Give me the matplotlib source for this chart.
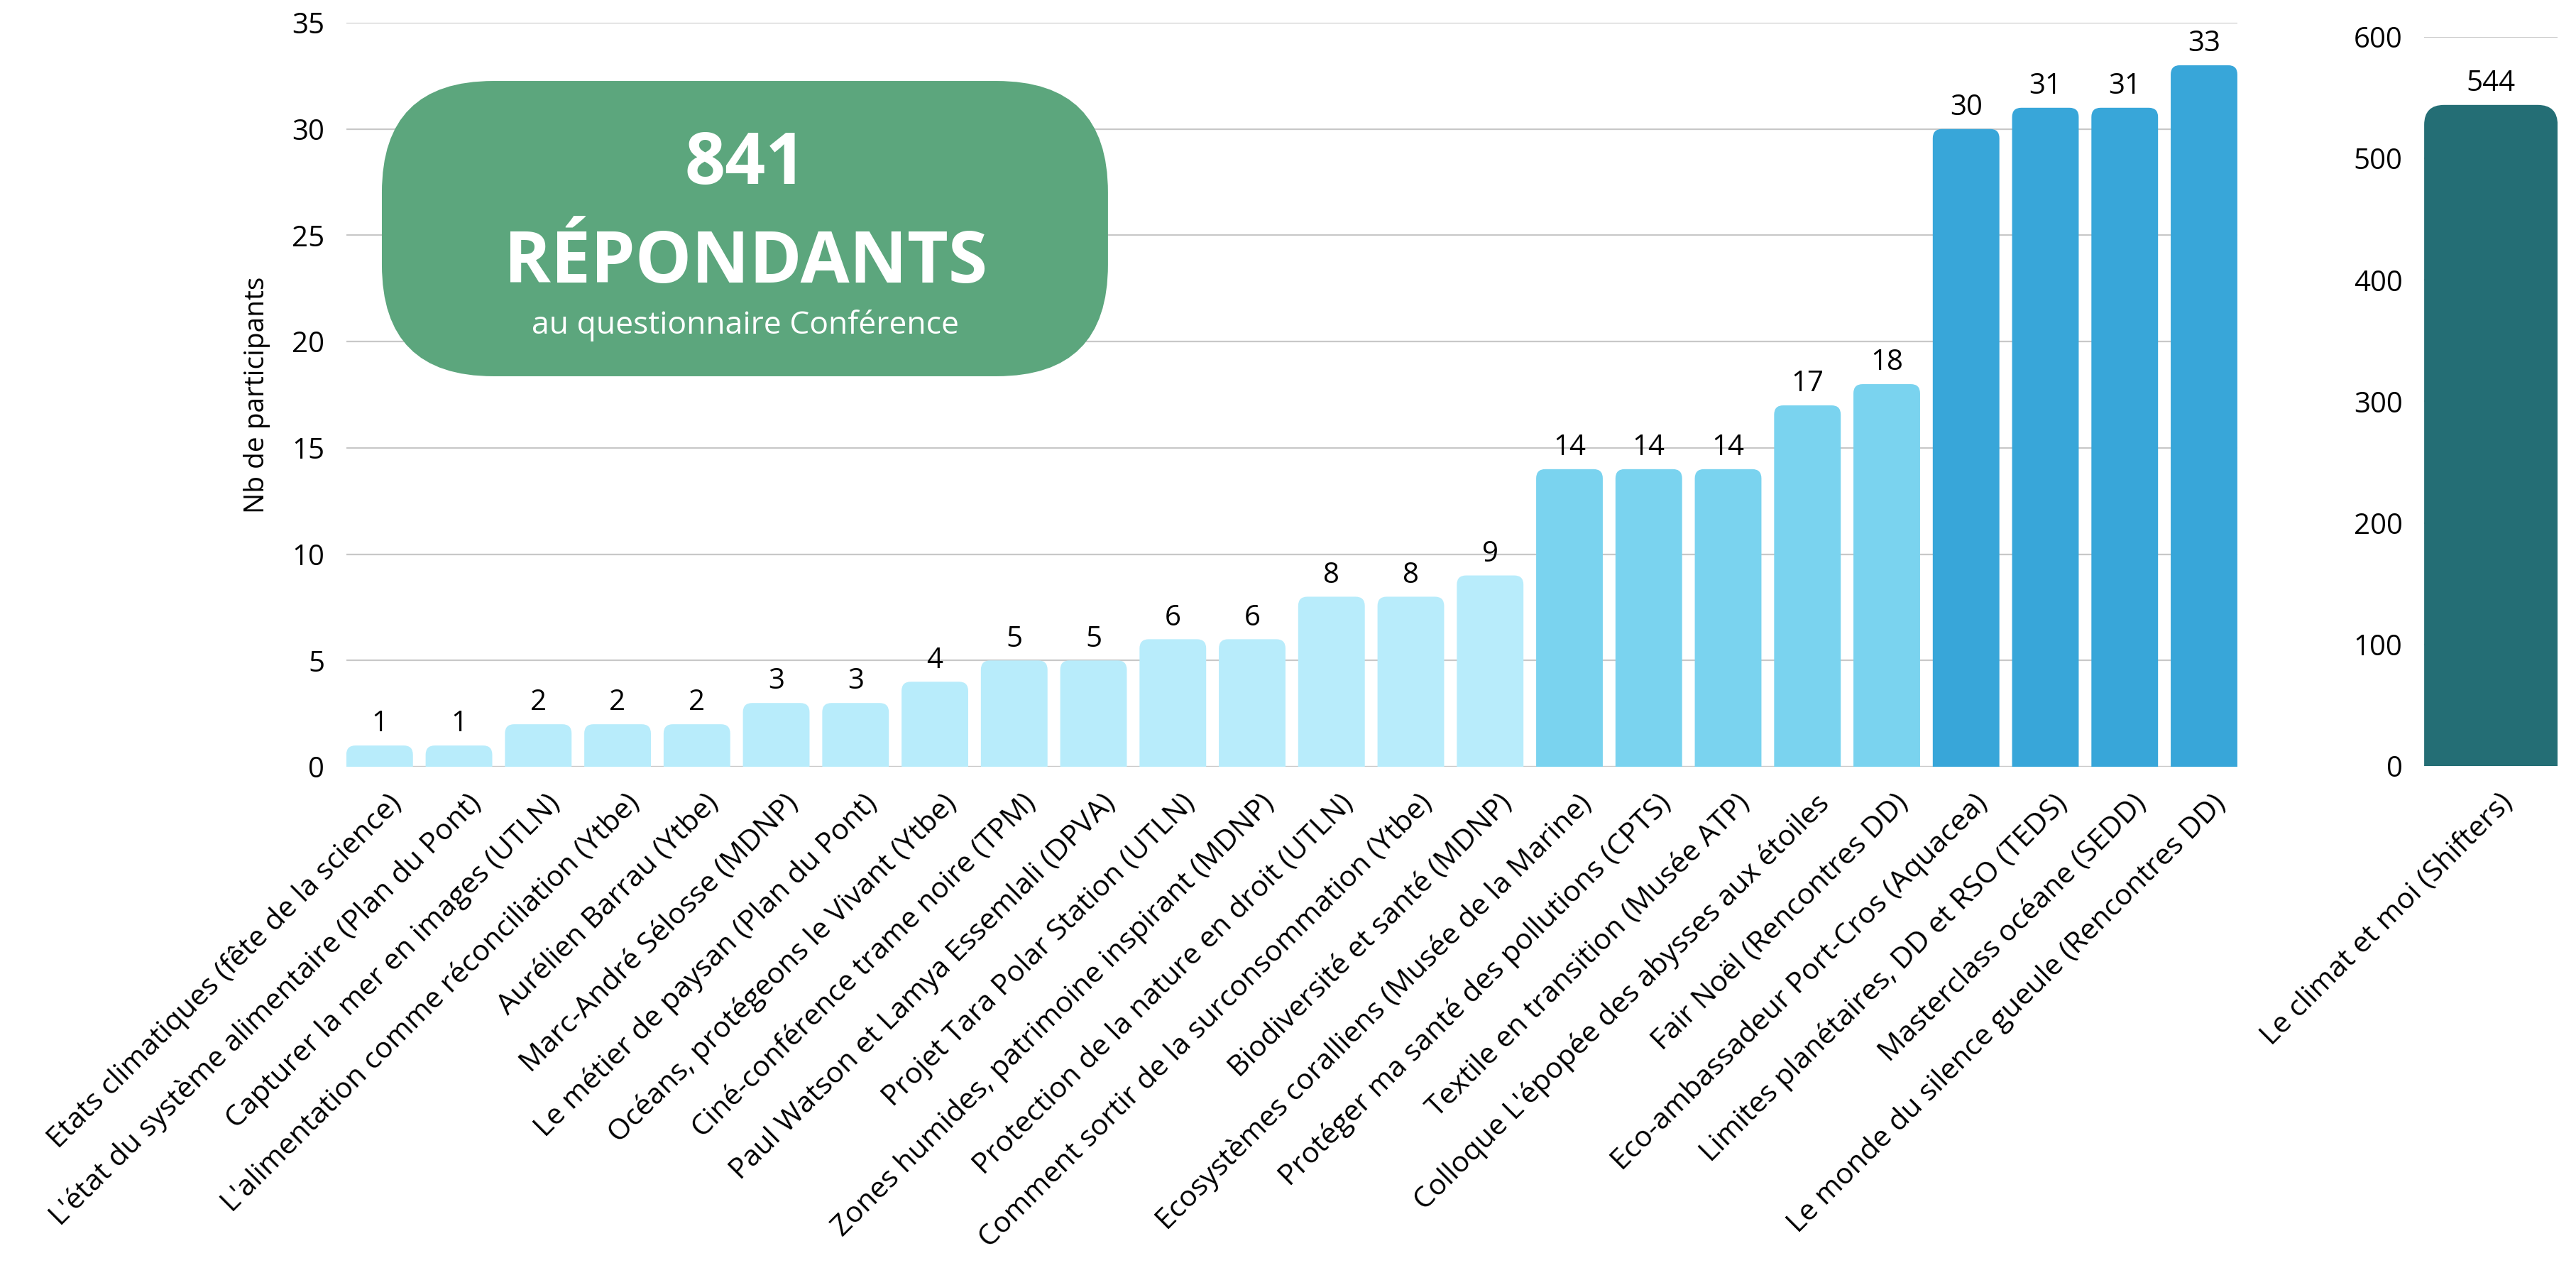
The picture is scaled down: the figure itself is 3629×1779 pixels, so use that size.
import numpy as np
import matplotlib
matplotlib.use('Agg')
import matplotlib.pyplot as plt
from matplotlib.patches import FancyBboxPatch
from matplotlib.transforms import ScaledTranslation

plt.rcParams['font.family'] = ['Open Sans', 'DejaVu Sans']

# data
labels = [
    "Etats climatiques (fête de la science)",
    "L'état du système alimentaire (Plan du Pont)",
    "Capturer la mer en images (UTLN)",
    "L'alimentation comme réconciliation (Ytbe)",
    "Aurélien Barrau (Ytbe)",
    "Marc-André Sélosse (MDNP)",
    "Le métier de paysan (Plan du Pont)",
    "Océans, protégeons le Vivant (Ytbe)",
    "Ciné-conférence trame noire (TPM)",
    "Paul Watson et Lamya Essemlali (DPVA)",
    "Projet Tara Polar Station (UTLN)",
    "Zones humides, patrimoine inspirant (MDNP)",
    "Protection de la nature en droit (UTLN)",
    "Comment sortir de la surconsommation (Ytbe)",
    "Biodiversité et santé (MDNP)",
    "Ecosystèmes coralliens (Musée de la Marine)",
    "Protéger ma santé des pollutions (CPTS)",
    "Textile en transition (Musée ATP)",
    "Colloque L'épopée des abysses aux étoiles",
    "Fair Noël (Rencontres DD)",
    "Eco-ambassadeur Port-Cros (Aquacea)",
    "Limites planétaires, DD et RSO (TEDS)",
    "Masterclass océane (SEDD)",
    "Le monde du silence gueule (Rencontres DD)",
]
values = [1, 1, 2, 2, 2, 3, 3, 4, 5, 5, 6, 6, 8, 8, 9,
          14, 14, 14, 17, 18,
          30, 31, 31, 33]
groups = [0] * 15 + [1] * 5 + [2] * 4
group_colors = ['#B8ECFB', '#7AD3EF', '#38A6D9']

big_label = ["Le climat et moi (Shifters)"]
big_value = [544]
big_color = '#246E75'

total = 841

fig = plt.figure(figsize=(36.3, 17.79), dpi=100)
ax = fig.add_axes([0.1344, 0.3929, 0.7339, 0.5891])
ax2 = fig.add_axes([0.9408, 0.3935, 0.0518, 0.5773])


def rounded_bars(axis, x, heights, colors, width, radius_px, ymax):
    bars = axis.bar(x, heights, width=width, color=colors, zorder=3)
    axis.set_xlim(x[0] - width / 2, x[-1] + width / 2)
    axis.set_ylim(0, ymax)
    fig.canvas.draw()
    p0 = axis.transData.transform((0, 0))
    p1 = axis.transData.transform((1, 1))
    px_x = p1[0] - p0[0]
    px_y = p1[1] - p0[1]
    r = radius_px / px_x
    for b in bars:
        patch = FancyBboxPatch((b.get_x(), -ymax * 0.1), b.get_width(),
                               b.get_height() + ymax * 0.1,
                               boxstyle=f"round,pad=0,rounding_size={r}",
                               mutation_aspect=px_x / px_y,
                               facecolor=b.get_facecolor(), edgecolor='none',
                               zorder=3)
        axis.add_patch(patch)
        b.remove()
    return bars


def style_labels(axis, ticks, names):
    axis.set_xticks(ticks)
    axis.set_xticklabels(names, fontsize=29.5, rotation=45, ha='right', va='center',
                         rotation_mode='anchor')
    for lab in axis.get_xticklabels():
        lab.set_transform(lab.get_transform() + ScaledTranslation(0.25, 0, fig.dpi_scale_trans))


x = np.arange(len(values))
rounded_bars(ax, x, values, [group_colors[g] for g in groups], 0.84, 13, 35)

for xi, v in zip(x, values):
    ax.annotate(str(v), (xi, v), xytext=(0, 7), textcoords='offset points',
                ha='center', va='bottom', fontsize=29)

ax.set_yticks(np.arange(0, 36, 5))
ax.grid(axis='y', color='#C8C8C8', linewidth=1.6, zorder=0)
ax.axhline(0, color='#7F7F7F', linewidth=2.2, zorder=1)
for s in ax.spines.values():
    s.set_visible(False)
ax.tick_params(axis='y', length=0, pad=22, labelsize=29)
ax.tick_params(axis='x', length=0, pad=33)
style_labels(ax, x, labels)
ax.text(-0.0473, 0.5, 'Nb de participants', transform=ax.transAxes,
        rotation=90, ha='center', va='center', fontsize=28)

# right panel
x2 = np.arange(len(big_value))
rounded_bars(ax2, x2, big_value, [big_color], 0.84, 28, 600)
for xi, v in zip(x2, big_value):
    ax2.annotate(str(v), (xi, v), xytext=(0, 7), textcoords='offset points',
                 ha='center', va='bottom', fontsize=29)
ax2.set_yticks(np.arange(0, 601, 100))
ax2.grid(axis='y', color='#C8C8C8', linewidth=1.6, zorder=0)
for s in ax2.spines.values():
    s.set_visible(False)
ax2.tick_params(axis='y', length=0, pad=22, labelsize=29)
ax2.tick_params(axis='x', length=0, pad=33)
style_labels(ax2, x2, big_label)

# green badge
badge = FancyBboxPatch((0.1482, 0.7021), 0.2818, 0.2338,
                       boxstyle="round,pad=0,rounding_size=0.0432",
                       mutation_aspect=3630 / 1779,
                       transform=fig.transFigure, facecolor='#5CA67D',
                       edgecolor='none', zorder=5)
fig.patches.append(badge)
fig.text(0.2893, 0.8544, str(total), ha='center', va='baseline', fontsize=72,
         fontweight='bold', color='white', zorder=6)
fig.text(0.2893, 0.7763, 'RÉPONDANTS', ha='center', va='baseline', fontsize=72,
         fontweight='bold', color='white', zorder=6)
fig.text(0.2893, 0.7358, 'au questionnaire Conférence', ha='center', va='baseline',
         fontsize=32, color='white', zorder=6)

fig.savefig('out.png', dpi=100)
